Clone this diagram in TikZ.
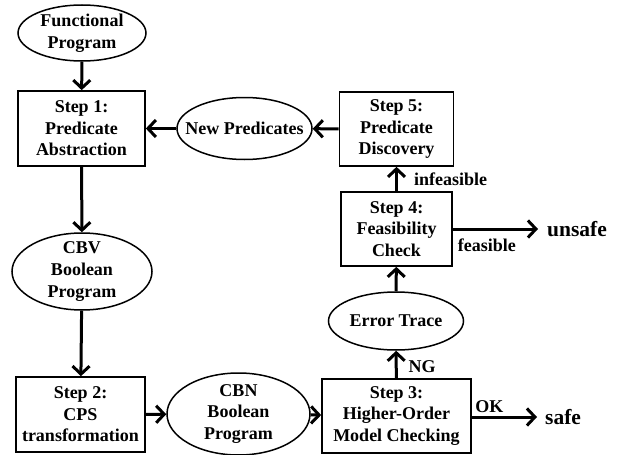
\documentclass[tikz,border=0pt]{standalone}
\usepackage{fontspec}
\setmainfont{Liberation Serif}
\usetikzlibrary{shapes.geometric}
\usetikzlibrary{positioning}
\usetikzlibrary{arrows.meta}
\tikzset{
	x=1pt, y=-1pt, % pixel-like coordinates, y pointing down
	every node/.style={
			font=\fontsize{18}{21.6}\selectfont\bfseries,
			align=center
		},
	stepbox/.style={ % the numbered steps
			draw,
			line width=1.7pt,
			inner sep=0pt
		},
	data/.style={ % programs, traces, predicates
			ellipse,
			draw,
			line width=1.5pt,
			inner xsep=-13pt,
			inner ysep=-3pt
		},
	result/.style={
			font=\fontsize{21.5}{24}\selectfont\bfseries,
			inner ysep=0pt
		},
	lbl/.style={inner sep=1pt},
	flow/.style={ % thick arrows between the stages
			draw,
			line width=3pt,
			-{Straight Barb[length=8pt,width=17pt]}
		}
}
\begin{document}
\begin{tikzpicture}
    \useasboundingbox (0,0) rectangle (622,455);
    % left column
    \node[data, minimum width=128pt, minimum height=56pt] (fp) at (82,33) {Functional\\Program};
    \node[stepbox, minimum width=127pt, minimum height=75pt] (step1) at (81.5,128.5) {Step 1:\\Predicate\\Abstraction};
    \node[data, minimum width=140pt, minimum height=77pt] (cbv) at (82,271.5) {CBV\\Boolean\\Program};
    \node[stepbox, minimum width=129pt, minimum height=75pt] (step2) at (80.5,414.5) {Step 2:\\CPS\\transformation};
    % bottom row
    \node[data, minimum width=143pt, minimum height=82pt] (cbn) at (238.5,414) {CBN\\Boolean\\Program};
    \node[stepbox, minimum width=149pt, minimum height=74pt] (step3) at (396.5,416) {Step 3:\\Higher-Order\\Model Checking};
    % right column
    \node[data, minimum width=135pt, minimum height=58pt] (err) at (396,321) {Error Trace};
    \node[stepbox, minimum width=111pt, minimum height=74pt] (step4) at (396.5,229) {Step 4:\\Feasibility\\Check};
    \node[stepbox, minimum width=114pt, minimum height=74pt] (step5) at (396.5,129) {Step 5:\\Predicate\\Discovery};
    \node[data, minimum width=135pt, minimum height=62pt] (np) at (244.5,128.5) {New Predicates};
    % outcomes
    \node[result, inner xsep=9pt, anchor=west] (unsafe) at (538,229) {unsafe};
    \node[result, inner xsep=8pt, anchor=west] (safe) at (537,417) {safe};

    \draw[flow] (fp) -- (step1);
    \draw[flow] (step1) -- (cbv);
    \draw[flow] (cbv) -- (step2);
    \draw[flow] (step2) -- (cbn);
    \draw[flow] (cbn) -- (step3);
    \draw[flow] (step3) -- node[lbl, right=10pt, pos=0.41] {NG} (err);
    \draw[flow] (err) -- (step4);
    \draw[flow] (step4) -- node[lbl, right=15pt] {infeasible} (step5);
    \draw[flow] (step5) -- (np);
    \draw[flow] (np) -- (step1);
    \draw[flow] (step4) -- node[lbl, below=7pt, pos=0.4] {feasible} (unsafe);
    \draw[flow] (step3.east |- safe.west) -- node[lbl, above=2pt, pos=0.27] {OK} (safe);
\end{tikzpicture}
\end{document}
